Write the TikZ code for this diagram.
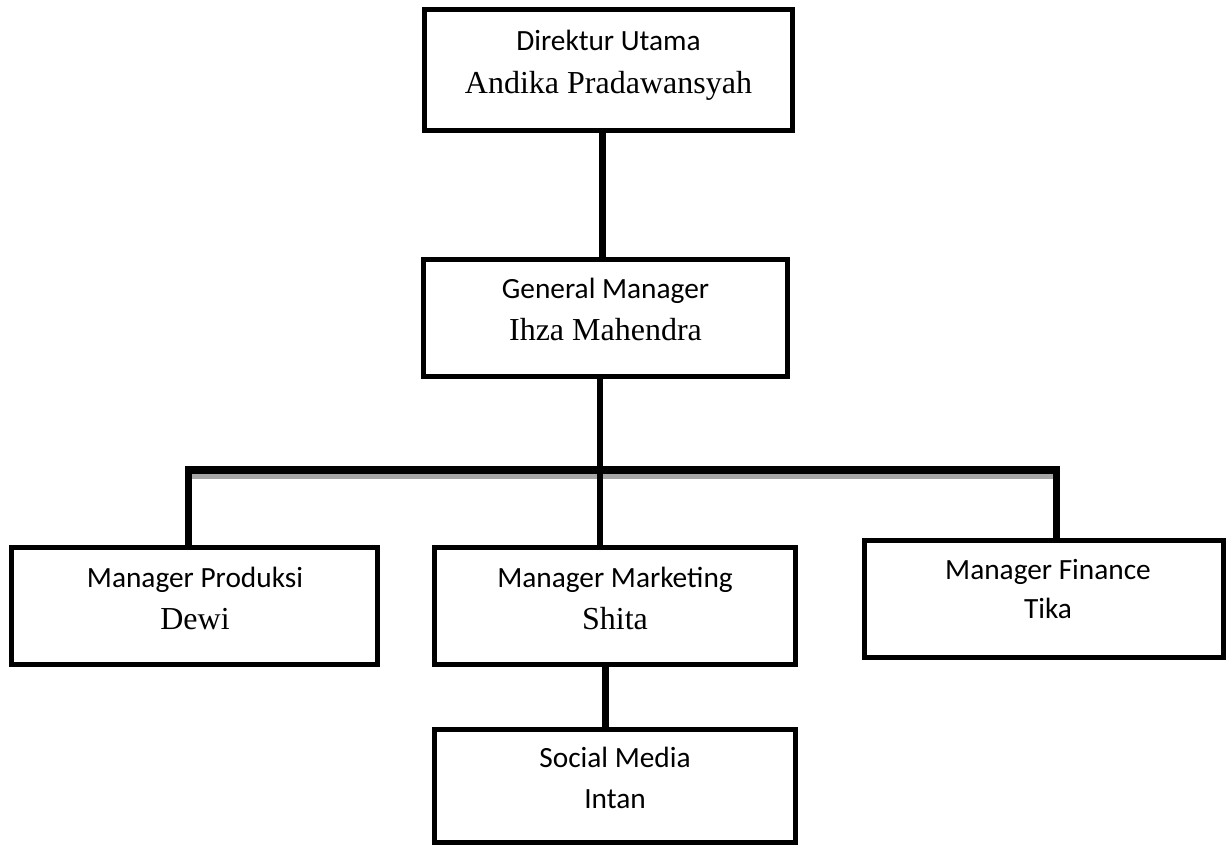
\documentclass[tikz,border=0pt]{standalone}
\usepackage{fontspec}
\setmainfont{Carlito}
\newfontfamily\namefont{Liberation Serif}
\begin{document}
\begin{tikzpicture}[x=0.375pt, y=-0.375pt, box_style/.style={draw=black, line width=1.875pt, rectangle, inner sep=0pt, minimum height=43.875pt}, title_style/.style={anchor=base, inner sep=0pt, font=\fontsize{11pt}{13pt}\selectfont}, name_style/.style={anchor=base, inner sep=0pt, font=\namefont\fontsize{12pt}{14pt}\selectfont}, line_style/.style={draw=black, line width=2.625pt}, bus_style/.style={draw=black, line width=3pt}, shade_style/.style={draw=black!35, line width=1.875pt}]
      \useasboundingbox (0,0) rectangle (1232,847);
      \draw
        (608.5, 70) node[box_style, minimum width=138pt, minimum height=45.375pt] (dirut){}
        (605.5, 318) node[box_style, minimum width=136.5pt] (gm){}
        (194.5, 606) node[box_style, minimum width=137.25pt] (prod){}
        (615, 606) node[box_style, minimum width=135.375pt] (mark){}
        (1044, 599) node[box_style, minimum width=134.625pt] (fin){}
        (615, 786) node[box_style, minimum width=135.375pt, minimum height=42.375pt] (soc){};
      \draw
        (608.5, 50) node[title_style] (dirut_title){Direktur Utama}
        (608.5, 93) node[name_style] (dirut_name){Andika Pradawansyah}
        (605.5, 298) node[title_style] (gm_title){General Manager}
        (605.5, 340) node[name_style] (gm_name){Ihza Mahendra}
        (195, 587) node[title_style] (prod_title){Manager Produksi}
        (195, 629) node[name_style] (prod_name){Dewi}
        (615, 587) node[title_style] (mark_title){Manager Marketing}
        (615, 629) node[name_style] (mark_name){Shita}
        (1048, 579) node[title_style] (fin_title){Manager Finance}
        (1048, 618) node[title_style] (fin_name){Tika}
        (615, 767) node[title_style] (soc_title){Social Media}
        (615, 808) node[title_style] (soc_name){Intan};
      \coordinate (top_link) at (602, 0);
      \coordinate (bus_left) at (185, 470);
      \coordinate (bus_right) at (1060, 470);
      \coordinate (drop_left) at (188.5, 466);
      \coordinate (drop_mid) at (600, 0);
      \coordinate (drop_right) at (1056.5, 466);
      \coordinate (sub_link) at (605, 0);
      \begin{scope}[-]
        \draw[line_style] (dirut.south -| top_link) -- (gm.north -| top_link);
        \draw[shade_style] ([yshift=-3.9pt]drop_left) -- ([yshift=-3.9pt]drop_right);
        \draw[bus_style] (bus_left) -- (bus_right);
        \draw[line_style, line width=2.25pt] (gm.south -| drop_mid) -- (mark.north -| drop_mid);
        \draw[line_style] (drop_left) -- (prod.north -| drop_left);
        \draw[line_style] (drop_right) -- (fin.north -| drop_right);
        \draw[line_style] (mark.south -| sub_link) -- (soc.north -| sub_link);
      \end{scope}
    \end{tikzpicture}
\end{document}
